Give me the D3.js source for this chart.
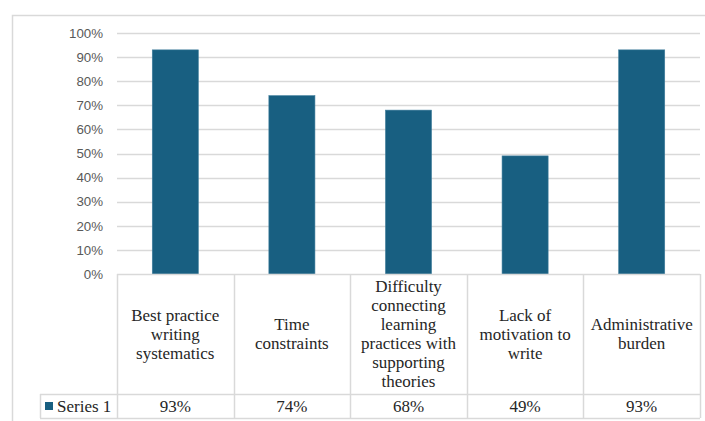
<!DOCTYPE html>
<html>
<head>
<meta charset="utf-8">
<script src="https://cdn.jsdelivr.net/npm/d3@7"></script>
<style>
  body { margin: 0; background: #fff; }
  svg { display: block; }
</style>
</head>
<body>
<div id="chart"></div>
<script>
// Chart data
const categories = ["Best practice writing systematics", "Time constraints",
  "Difficulty connecting learning practices with supporting theories",
  "Lack of motivation to write", "Administrative burden"];
const categoryLines = [
  ["Best practice", "writing", "systematics"],
  ["Time", "constraints"],
  ["Difficulty", "connecting", "learning", "practices with", "supporting", "theories"],
  ["Lack of", "motivation to", "write"],
  ["Administrative", "burden"]
];
const seriesName = "Series 1";
const values = [0.93, 0.74, 0.68, 0.49, 0.93];
const yTicks = [0, 0.1, 0.2, 0.3, 0.4, 0.5, 0.6, 0.7, 0.8, 0.9, 1.0];

const W = 705, H = 421;
const plot = { left: 117, right: 700, top: 33, bottom: 274 };
const tableBottom = 418, valueRowTop = 394, legendLeft = 40;
const barColor = "#185f81";
const lineColor = "#d9d9d9";

const svg = d3.select("#chart").append("svg")
    .attr("width", W)
    .attr("height", H);

// Outer chart border (runs off the right and bottom edges)
svg.append("rect")
    .attr("x", 12.5).attr("y", 15.5)
    .attr("width", 720).attr("height", 440)
    .attr("fill", "none").attr("stroke", lineColor).attr("stroke-width", 1.5);

const xScale = d3.scaleBand().domain(categories).range([plot.left, plot.right]);
const yScale = d3.scaleLinear().domain([0, 1]).range([plot.bottom, plot.top]);

// Gridlines
svg.append("g").selectAll("line").data(yTicks.filter(d => d > 0)).enter().append("line")
    .attr("x1", plot.left).attr("x2", plot.right)
    .attr("y1", d => Math.round(yScale(d)) + 0.5).attr("y2", d => Math.round(yScale(d)) + 0.5)
    .attr("stroke", lineColor).attr("stroke-width", 1.5);

// Y axis labels
const yAxis = d3.axisLeft(yScale).tickValues(yTicks).tickFormat(d3.format(".0%")).tickSize(0).tickPadding(0);
const yg = svg.append("g").attr("transform", `translate(${plot.left - 14},0)`).call(yAxis);
yg.select(".domain").remove();
yg.selectAll("text")
    .attr("fill", "#595959")
    .style("font-family", "'Liberation Sans', Arial, sans-serif")
    .style("font-size", "13.3px");

// Bars
const barW = xScale.bandwidth() * 0.395;
svg.selectAll(".bar").data(values).enter().append("rect")
    .attr("class", "bar")
    .attr("x", (d, i) => xScale(categories[i]) + (xScale.bandwidth() - barW) / 2)
    .attr("y", d => yScale(d))
    .attr("width", barW)
    .attr("height", d => yScale(0) - yScale(d))
    .attr("fill", barColor)
    .attr("stroke", "#3f7d9b").attr("stroke-width", 0.6);

// Data table lines
const table = svg.append("g").attr("stroke", lineColor).attr("stroke-width", 1.5);
table.append("line").attr("x1", plot.left).attr("x2", plot.right).attr("y1", plot.bottom + 0.5).attr("y2", plot.bottom + 0.5);
table.append("line").attr("x1", legendLeft).attr("x2", plot.right).attr("y1", valueRowTop + 0.5).attr("y2", valueRowTop + 0.5);
table.append("line").attr("x1", legendLeft).attr("x2", plot.right).attr("y1", tableBottom + 0.5).attr("y2", tableBottom + 0.5);
table.append("line").attr("x1", legendLeft + 0.5).attr("x2", legendLeft + 0.5).attr("y1", valueRowTop).attr("y2", tableBottom);
const edges = categories.map(c => xScale(c)).concat([plot.right]);
table.selectAll(".vline").data(edges).enter().append("line")
    .attr("class", "vline")
    .attr("x1", d => Math.round(d) + 0.5).attr("x2", d => Math.round(d) + 0.5)
    .attr("y1", plot.bottom).attr("y2", tableBottom);

const serif = "'Liberation Serif', 'DejaVu Serif', serif";
const textSize = "17px";

// Category labels
const labelMid = (plot.bottom + valueRowTop) / 2;
const lineH = 19;
categoryLines.forEach((lines, i) => {
  const cx = xScale(categories[i]) + xScale.bandwidth() / 2;
  const t = svg.append("text")
      .attr("text-anchor", "middle")
      .attr("fill", "#262626")
      .style("font-family", serif)
      .style("font-size", textSize);
  const y0 = labelMid - (lines.length - 1) * lineH / 2 + 5.5;
  lines.forEach((ln, j) => {
    t.append("tspan").attr("x", cx).attr("y", y0 + j * lineH).text(ln);
  });
});

// Value row
const rowMid = (valueRowTop + tableBottom) / 2 + 6;
svg.selectAll(".val").data(values).enter().append("text")
    .attr("class", "val")
    .attr("x", (d, i) => xScale(categories[i]) + xScale.bandwidth() / 2)
    .attr("y", rowMid)
    .attr("text-anchor", "middle")
    .attr("fill", "#262626")
    .style("font-family", serif)
    .style("font-size", textSize)
    .text(d => d3.format(".0%")(d));

// Legend key
svg.append("rect").attr("x", 45).attr("y", 402).attr("width", 8).attr("height", 8).attr("fill", barColor);
svg.append("text")
    .attr("x", 57).attr("y", rowMid)
    .attr("fill", "#262626")
    .style("font-family", serif)
    .style("font-size", textSize)
    .text(seriesName);
</script>
</body>
</html>
